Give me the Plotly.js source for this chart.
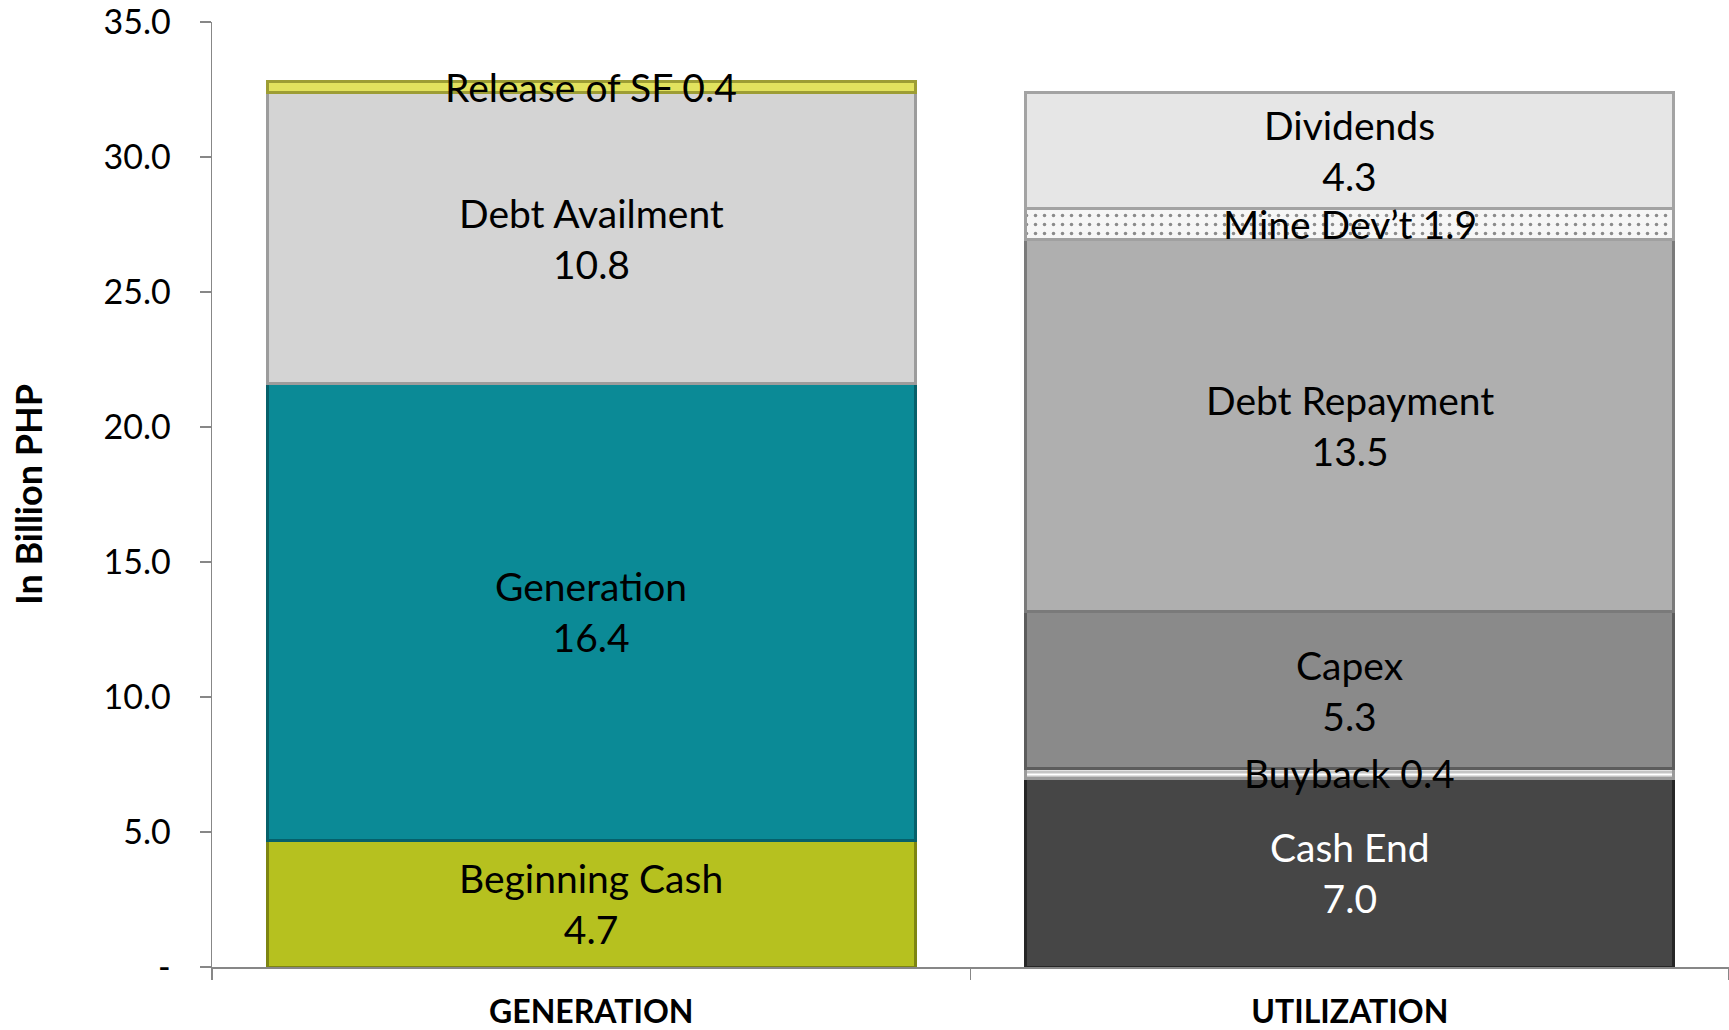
<!DOCTYPE html>
<html>
<head>
<meta charset="utf-8">
<script src="https://cdn.plot.ly/plotly-3.0.1.min.js"></script>
<style>
  html, body { margin: 0; padding: 0; background: #fff; }
  #chart { width: 1729px; height: 1030px; }
</style>
</head>
<body>
<div id="chart"></div>
<script>
/* ---- Data ---- */
const categories = ['GENERATION', 'UTILIZATION'];

// sources, bottom to top
const genNames  = ['Beginning Cash', 'Generation', 'Debt Availment', 'Release of SF'];
const genValues = [4.7, 16.9, 10.8, 0.4];
const genLabels = ['4.7', '16.4', '10.8', '0.4'];

// uses, bottom to top
const useNames  = ['Cash End', 'Buyback', 'Capex', 'Debt Repayment', 'Mine Dev\u2019t', 'Dividends'];
const useValues = [7.0, 0.35, 5.8, 13.8, 1.15, 4.3];
const useLabels = ['7.0', '0.4', '5.3', '13.5', '1.9', '4.3'];

const yTicks    = [0, 5, 10, 15, 20, 25, 30, 35];
const yTickText = ['-', '5.0', '10.0', '15.0', '20.0', '25.0', '30.0', '35.0'];

/* ---- Styles ---- */
const FONT = 'Lato, "Open Sans", sans-serif';
const AXIS = '#878787';

const genStyle = [
  { fill: '#b6c11f', line: '#7d8512' },
  { fill: '#0b8a96', line: '#06606a' },
  { fill: '#d4d4d4', line: '#9c9c9c' },
  { fill: '#e2e25e', line: '#9d9d34' },
];
const useStyle = [
  { fill: '#464646', line: '#262626', text: '#ffffff' },
  { fill: '#dcdcdc', line: '#9a9a9a', pattern: { shape: '-', fgcolor: '#ffffff', bgcolor: '#c4c4c4', size: 5, solidity: 0.4 } },
  { fill: '#8a8a8a', line: '#5c5c5c' },
  { fill: '#afafaf', line: '#7a7a7a' },
  { fill: '#f6f6f6', line: '#a0a0a0', pattern: { shape: '.', fgcolor: '#8a8a8a', bgcolor: '#f6f6f6', size: 9, solidity: 0.12 } },
  { fill: '#e6e6e6', line: '#a3a3a3' },
];

function segment(cat, name, value, st) {
  const marker = { color: st.fill, line: { color: st.line, width: 3 } };
  if (st.pattern) marker.pattern = st.pattern;
  return {
    type: 'bar', x: [cat], y: [value], name: name,
    marker: marker, hoverinfo: 'skip', showlegend: false,
  };
}

// labels sit over all bars, at the middle of each stacked segment
function segmentLabels(cat, names, values, labels, styles) {
  let base = 0;
  return values.map((v, i) => {
    const mid = base + v / 2;
    base += v;
    return {
      x: cat, y: mid, xref: 'x', yref: 'y',
      text: names[i] + (v < 1.5 ? ' ' : '<br>') + labels[i],
      showarrow: false,
      font: { family: FONT, size: 39, color: styles[i].text || '#000000' },
    };
  });
}

const traces = [];
genNames.forEach((n, i) => traces.push(segment(categories[0], n, genValues[i], genStyle[i])));
useNames.forEach((n, i) => traces.push(segment(categories[1], n, useValues[i], useStyle[i])));

const annotations = [
  ...segmentLabels(categories[0], genNames, genValues, genLabels, genStyle),
  ...segmentLabels(categories[1], useNames, useValues, useLabels, useStyle),
];

const layout = {
  width: 1729,
  height: 1030,
  paper_bgcolor: '#ffffff',
  plot_bgcolor: '#ffffff',
  barmode: 'stack',
  bargap: 0.146,
  margin: { l: 212, r: 0, t: 22, b: 63 },
  font: { family: FONT, size: 32, color: '#000000' },
  annotations: annotations,
  xaxis: {
    type: 'category',
    categoryarray: categories,
    showline: true, linecolor: AXIS, linewidth: 1.5,
    ticks: 'outside', tickson: 'boundaries', ticklen: 11, tickcolor: AXIS, tickwidth: 1.5,
    ticklabelstandoff: 16,
    tickfont: { family: FONT, size: 32, color: '#000000', weight: 'bold' },
    showgrid: false, zeroline: false,
  },
  yaxis: {
    range: [0, 35],
    tickvals: yTicks,
    ticktext: yTickText,
    showline: true, linecolor: AXIS, linewidth: 1.5,
    ticks: 'outside', ticklen: 11, tickcolor: AXIS, tickwidth: 1.5,
    ticklabelstandoff: 22,
    ticklabeloverflow: 'allow',
    tickfont: { family: FONT, size: 34, color: '#000000' },
    showgrid: false, zeroline: false,
    title: { text: 'In Billion PHP', standoff: 50, font: { family: FONT, size: 36, color: '#000000', weight: 'bold' } },
  },
};

Plotly.newPlot('chart', traces, layout, { displayModeBar: false, staticPlot: true });
</script>
</body>
</html>
